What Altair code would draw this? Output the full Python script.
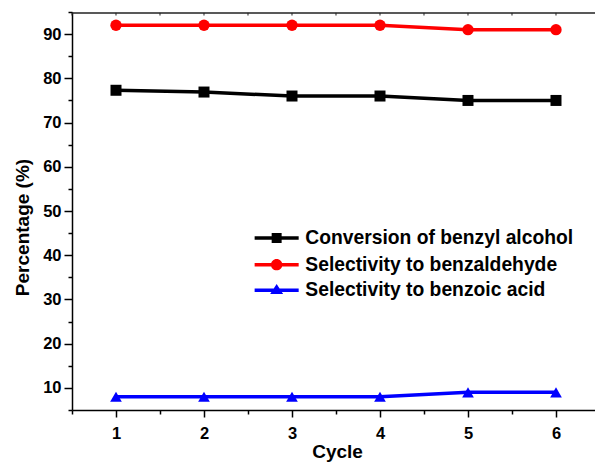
import altair as alt
import pandas as pd

# ---- data ----
cycles = [1, 2, 3, 4, 5, 6]
conversion = [77.3, 76.9, 76.0, 76.0, 75.0, 75.0]
sel_aldehyde = [92.0, 92.0, 92.0, 92.0, 91.0, 91.0]
sel_acid = [8.0, 8.0, 8.0, 8.0, 9.0, 9.0]

series_names = [
    "Conversion of benzyl alcohol",
    "Selectivity to benzaldehyde",
    "Selectivity to benzoic acid",
]
series_colors = ["#000000", "#ff0000", "#0000ff"]
marker_shapes = ["square", "circle", "triangle-up"]
marker_sizes = [121, 137, 216]

# legend symbols: filled bar (line segment) + filled marker, as custom SVG paths
legend_paths = [
    "M-3.67,-0.29H3.67V0.29H-3.67Z M-0.83,-0.83H0.83V0.83H-0.83Z",
    "M-3.67,-0.29H3.67V0.29H-3.67Z M-0.95,0A0.95,0.95,0,1,1,0.95,0A0.95,0.95,0,1,1,-0.95,0Z",
    "M-3.67,-0.29H3.67V0.29H-3.67Z M0,-1.05L1.08,0.62H-1.08Z",
]

y_major = [10, 20, 30, 40, 50, 60, 70, 80, 90]
y_minor = [5, 15, 25, 35, 45, 55, 65, 75, 85, 95]
x_major = [1, 2, 3, 4, 5, 6]
x_minor = [0.5, 1.5, 2.5, 3.5, 4.5, 5.5]
x_all = [0.5, 1, 1.5, 2, 2.5, 3, 3.5, 4, 4.5, 5, 5.5, 6]
y_frame_top = [94.8]
y_top_tick_end = 94.2

rows = []
for name, vals in zip(series_names, [conversion, sel_aldehyde, sel_acid]):
    for c, v in zip(cycles, vals):
        rows.append({"series": name, "cycle": c, "value": v})
df = pd.DataFrame(rows)
frame_df = pd.DataFrame({"yv": y_frame_top})
top_tick_df = pd.DataFrame({
    "cycle": x_all,
    "y1": [y_frame_top[0]] * len(x_all),
    "y2": [y_top_tick_end] * len(x_all),
})

FONT = "Liberation Sans"

x_scale = alt.Scale(domain=[0.5, 6.466], nice=False, zero=False)
y_scale = alt.Scale(domain=[5, 95], nice=False, zero=False)

x_axis = alt.Axis(
    orient="bottom",
    values=x_major,
    format="d",
    tickSize=7,
    tickColor="#000000",
    tickWidth=1.5,
    domainColor="#000000",
    domainWidth=1.5,
    grid=False,
    labelFont=FONT,
    labelFontWeight="bold",
    labelFontSize=16.5,
    labelColor="#000000",
    labelBaseline="alphabetic",
    labelPadding=21,
    labelFlush=False,
    labelOverlap=False,
    title="Cycle",
    titleFont=FONT,
    titleFontWeight="bold",
    titleFontSize=19,
    titleColor="#000000",
    titleBaseline="alphabetic",
    titleAlign="center",
    titleX=265,
    titleY=47,
)

y_axis = alt.Axis(
    orient="left",
    values=y_major,
    tickSize=8,
    tickColor="#000000",
    tickWidth=1.5,
    domainColor="#000000",
    domainWidth=1.5,
    grid=False,
    labelFont=FONT,
    labelFontWeight="bold",
    labelFontSize=16.5,
    labelColor="#000000",
    labelPadding=3,
    labelFlush=False,
    labelOverlap=False,
    title="Percentage (%)",
    titleFont=FONT,
    titleFontWeight="bold",
    titleFontSize=19,
    titleColor="#000000",
    titleBaseline="alphabetic",
    titleAngle=270,
    titleAlign="center",
    titleX=-44,
    titleY=215,
)

color_scale = alt.Scale(domain=series_names, range=series_colors)

base = alt.Chart(df)

# top frame line and its small inward ticks (through the scales)
top_line = alt.Chart(frame_df).mark_rule(color="#222222", strokeWidth=1.5).encode(
    y=alt.Y("yv:Q", scale=y_scale, axis=None),
)

top_ticks = alt.Chart(top_tick_df).mark_rule(color="#222222", strokeWidth=1).encode(
    x=alt.X("cycle:Q", scale=x_scale, axis=None),
    y=alt.Y("y1:Q", scale=y_scale, axis=None),
    y2="y2:Q",
)

lines = base.mark_line(strokeWidth=3.5).encode(
    x=alt.X("cycle:Q", scale=x_scale, axis=x_axis),
    y=alt.Y("value:Q", scale=y_scale, axis=y_axis),
    color=alt.Color("series:N", scale=color_scale, legend=None),
    detail="series:N",
)

points = base.mark_point(filled=True, opacity=1, strokeWidth=0).encode(
    x=alt.X("cycle:Q", scale=x_scale, axis=None),
    y=alt.Y("value:Q", scale=y_scale, axis=None),
    color=alt.Color("series:N", scale=color_scale, legend=None),
    shape=alt.Shape("series:N", scale=alt.Scale(domain=series_names, range=marker_shapes), legend=None),
    size=alt.Size("series:N", scale=alt.Scale(domain=series_names, range=marker_sizes), legend=None),
)

# minor ticks on left and bottom axes
minor_axes = base.mark_point(opacity=0).encode(
    x=alt.X(
        "cycle:Q",
        scale=x_scale,
        axis=alt.Axis(orient="bottom", values=x_minor, tickSize=4, tickWidth=1.5,
                      tickColor="#000000", domain=False, labels=False, grid=False, title=None),
    ),
    y=alt.Y(
        "value:Q",
        scale=y_scale,
        axis=alt.Axis(orient="left", values=y_minor, tickSize=4, tickWidth=1.5,
                      tickColor="#000000", domain=False, labels=False, grid=False, title=None),
    ),
)

# one legend per series (no marks drawn), symbol = line + marker
legend_tops = [216.4, 243.0, 268.7]
legend_layers = []
for name, col, path, ly in zip(series_names, series_colors, legend_paths, legend_tops):
    lg = base.transform_filter("false").mark_point(
        filled=True, opacity=1, fill=col, strokeWidth=0
    ).encode(
        shape=alt.Shape(
            "series:N",
            scale=alt.Scale(domain=[name], range=[path]),
            legend=alt.Legend(
                title=None,
                orient="none",
                legendX=195,
                legendY=ly,
                symbolFillColor=col,
            ),
        ),
    )
    legend_layers.append(lg)

chart = (
    alt.layer(lines, points, minor_axes, top_line, top_ticks, *legend_layers)
    .resolve_scale(shape="independent", size="independent")
    .resolve_axis(x="independent", y="independent")
    .resolve_legend(shape="independent")
    .properties(
        width=525,
        height=398,
        autosize=alt.AutoSizeParams(type="none"),
        padding={"left": 72, "top": 12, "right": -2, "bottom": 53},
        background="#ffffff",
    )
    .configure_view(stroke=None)
    .configure_legend(
        padding=0,
        symbolSize=144,
        symbolStrokeWidth=0,
        symbolOpacity=1,
        labelFont=FONT,
        labelFontWeight="bold",
        labelFontSize=19.3,
        labelColor="#000000",
        labelOffset=19,
        labelLimit=400,
    )
)

chart.save("out.html", embed_options={"renderer": "svg", "actions": False})
